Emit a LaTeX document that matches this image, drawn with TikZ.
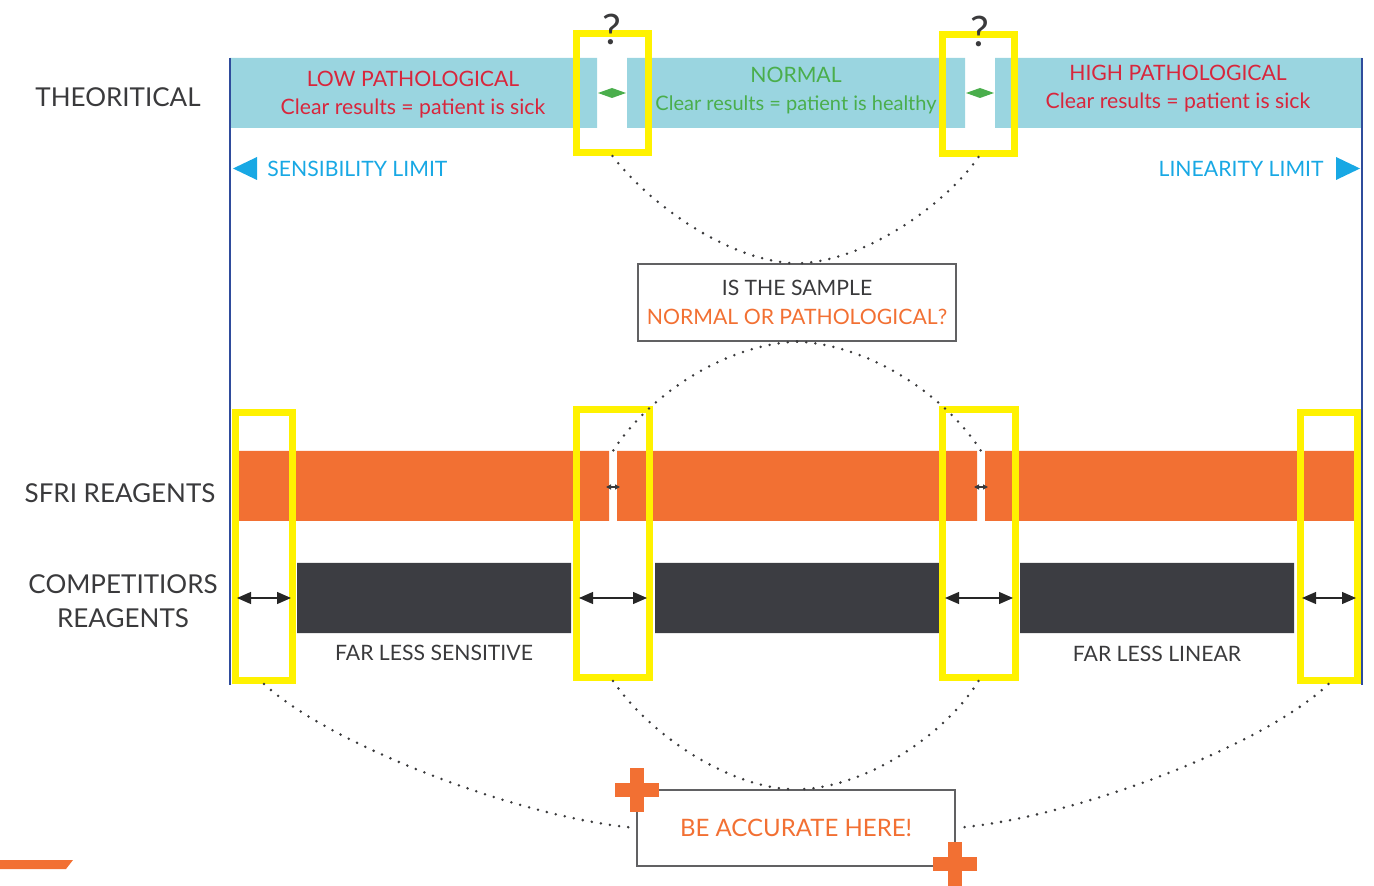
\documentclass[tikz,border=0pt]{standalone}
\usepackage{fontspec}
\setmainfont{Lato}
\usetikzlibrary{arrows.meta}
\definecolor{skyband}{HTML}{9AD5E0}
\definecolor{sfriorange}{HTML}{F27033}
\definecolor{compdark}{HTML}{3C3D42}
\definecolor{markyellow}{HTML}{FFF200}
\definecolor{limitblue}{HTML}{18A8E4}
\definecolor{sickred}{HTML}{D8263C}
\definecolor{okgreen}{HTML}{4AAE4C}
\definecolor{edgeblue}{HTML}{2F4C9C}
\definecolor{inkgray}{HTML}{3A3A3C}
\begin{document}
\begin{tikzpicture}[x=0.5pt, y=-0.5pt,
		every node/.style={align=center, inner sep=0pt, text=inkgray},
		rowlabel/.style={font=\fontsize{13}{17}\selectfont},
		bandtext/.style={font=\fontsize{10.6}{14}\selectfont},
		zone/.style={draw=markyellow, line width=3.5pt, minimum width=#1, minimum height=134pt},
		topzone/.style={draw=markyellow, line width=3.5pt, minimum width=36pt, minimum height=59.5pt},
		msgbox/.style={draw=inkgray!80, line width=0.6pt, minimum width=159pt, minimum height=38.5pt, font=\fontsize{10.6}{14.5}\selectfont},
		dotline/.style={draw=inkgray, line width=1.4pt, line cap=round, dash pattern=on 0pt off 4.6pt},
		span/.style={{Triangle[length=7pt, width=6pt]}-{Triangle[length=7pt, width=6pt]}, line width=0.6pt, black!85},
		tinyspan/.style={{Triangle[length=2.5pt, width=2.5pt]}-{Triangle[length=2.5pt, width=2.5pt]}, line width=0.6pt, inkgray}]
	\useasboundingbox (0,0) rectangle (1374,886);
	\fill[skyband] (230,58) rectangle (597,128) (627,58) rectangle (965,128) (995,58) rectangle (1362,128);
	\fill[sfriorange] (235,451) rectangle (609,521) (617,451) rectangle (977,521) (985,451) rectangle (1356,521);
	\fill[compdark] (297,563) rectangle (571,633) (655,563) rectangle (939,633) (1020,563) rectangle (1294,633);
	\draw[edgeblue, line width=1.3pt] (230,58) -- (230,685) (1362,58) -- (1362,685);
	\foreach \x in {612, 980}
		\fill[okgreen] (\x-14,93) -- (\x,88) -- (\x+14,93) -- (\x,98) -- cycle;
	\foreach \x in {613, 981}
		\draw[tinyspan] (\x-7,487) -- (\x+7,487);
	\node[rowlabel] (theo) at (118,97) {THEORITICAL};
	\node[rowlabel] (sfri) at (120,493) {SFRI REAGENTS};
	\node[rowlabel] (comp) at (123,601) {COMPETITIORS\\REAGENTS};
	\node[bandtext, text=sickred] (lowpat) at (413,95) {LOW PATHOLOGICAL\\Clear results = patient is sick};
	\node[bandtext, text=okgreen] (normal) at (796,91) {NORMAL\\{\fontsize{10}{14}\selectfont Clear results = patient is healthy}};
	\node[bandtext, text=sickred] (highpat) at (1178,89) {HIGH PATHOLOGICAL\\Clear results = patient is sick};
	\fill[limitblue] (233,168.5) -- (257,157) -- (257,180) -- cycle;
	\fill[limitblue] (1360,168.5) -- (1336,157) -- (1336,180) -- cycle;
	\node[bandtext, text=limitblue, anchor=west] (senslim) at (267,169) {SENSIBILITY LIMIT};
	\node[bandtext, text=limitblue, anchor=east] (linlim) at (1324,169) {LINEARITY LIMIT};
	\node[topzone] (gapL) at (612.5,93) {};
	\node[topzone] (gapR) at (978.5,94) {};
	\node[font=\fontsize{21}{21}\selectfont, text=inkgray] (askL) at (612,29) {?};
	\node[font=\fontsize{21}{21}\selectfont, text=inkgray] (askR) at (980,31) {?};
	\node[zone=28.5pt] (zoneA) at (264,546.5) {};
	\node[zone=36.5pt] (zoneB) at (613,543.5) {};
	\node[zone=36.5pt] (zoneC) at (978.5,543.5) {};
	\node[zone=28.5pt] (zoneD) at (1328.5,546.5) {};
	\coordinate (slitL) at (613,451);
	\coordinate (slitR) at (981,451);
	\coordinate (aL) at (237,598); \coordinate (aR) at (291,598);
	\coordinate (bL) at (579,598); \coordinate (bR) at (647,598);
	\coordinate (cL) at (945,598); \coordinate (cR) at (1013,598);
	\coordinate (dL) at (1302,598); \coordinate (dR) at (1356,598);
	\draw[span] (aL) -- (aR);
	\draw[span] (bL) -- (bR);
	\draw[span] (cL) -- (cR);
	\draw[span] (dL) -- (dR);
	\node[bandtext, text=inkgray] (farsens) at (434,653) {FAR LESS SENSITIVE};
	\node[bandtext, text=inkgray] (farlin) at (1157,654) {FAR LESS LINEAR};
	\node[msgbox] (sample) at (797,302.5) {IS THE SAMPLE\\\textcolor{sfriorange}{NORMAL OR PATHOLOGICAL?}};
	\node[msgbox, minimum height=38pt, font=\fontsize{12}{14}\selectfont] (accurate) at (796,828) {\textcolor{sfriorange}{BE ACCURATE HERE!}};
	\draw[dotline] (gapL.south) .. controls (650,205) and (730,262) .. (sample.north);
	\draw[dotline] (gapR.south) .. controls (945,205) and (865,262) .. (sample.north);
	\draw[dotline] (sample.south) .. controls (720,345) and (645,400) .. (slitL);
	\draw[dotline] (sample.south) .. controls (874,345) and (949,400) .. (slitR);
	\draw[dotline] (zoneB.south) .. controls (650,735) and (730,789) .. (accurate.north);
	\draw[dotline] (zoneC.south) .. controls (945,735) and (865,789) .. (accurate.north);
	\draw[dotline] (zoneA.south) .. controls (330,745) and (520,818) .. (accurate.west);
	\draw[dotline] (zoneD.south) .. controls (1265,745) and (1075,818) .. (accurate.east);
	\foreach \cx/\cy in {637/790, 955/864} {
		\fill[sfriorange] (\cx-7,\cy-22) rectangle (\cx+7,\cy+22);
		\fill[sfriorange] (\cx-22,\cy-7) rectangle (\cx+22,\cy+7);
	}
	\fill[sfriorange] (0,860) -- (73,860) -- (66,869) -- (0,869) -- cycle;
\end{tikzpicture}
\end{document}
